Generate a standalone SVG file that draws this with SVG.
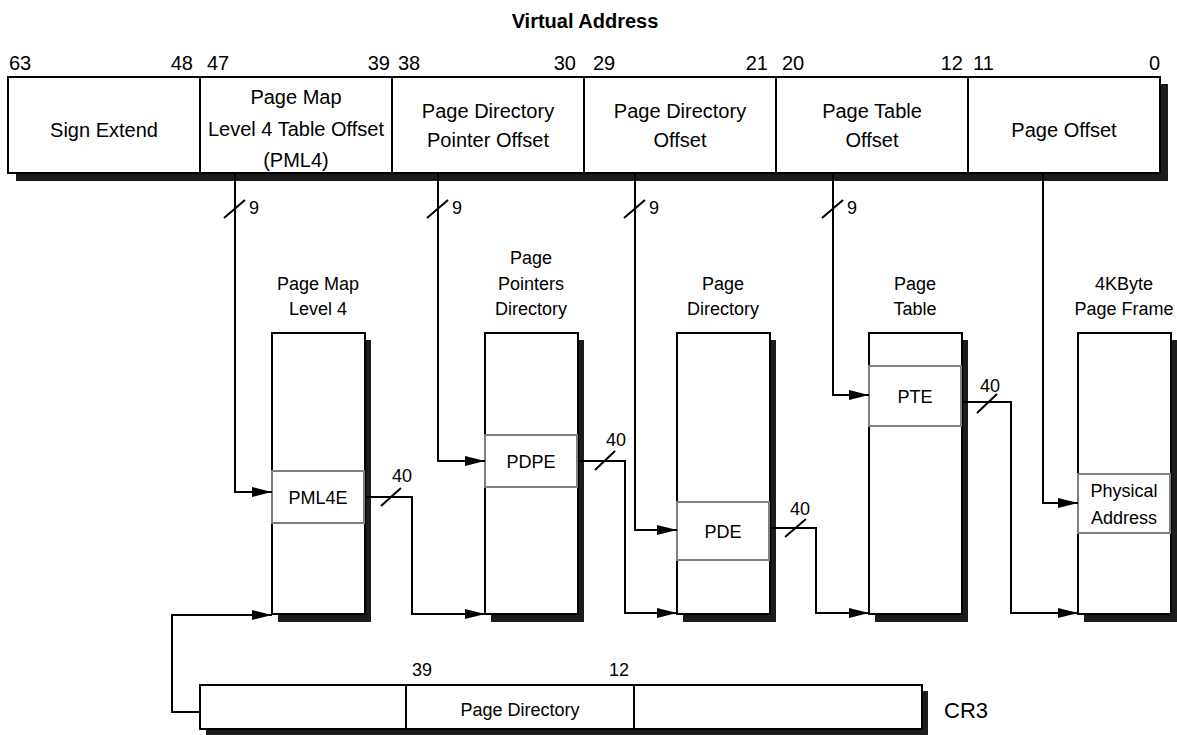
<svg xmlns="http://www.w3.org/2000/svg" width="1177" height="735" viewBox="0 0 1177 735">
<defs>
<marker id="arr" markerUnits="userSpaceOnUse" markerWidth="20" markerHeight="10" refX="20" refY="5" orient="auto"><path d="M0,0 L20,5 L0,10 Z" fill="#000"/></marker>
<style>
text{font-family:"Liberation Sans",Arial,sans-serif;fill:#000}
.t{font-size:20px;text-anchor:middle}
.n{font-size:20px}
.e{font-size:18px;text-anchor:end}
.l{font-size:18px;text-anchor:middle}
.s{font-size:18px}
.box{fill:#fff;stroke:#000;stroke-width:2}
.sh{fill:#1c1c1c}
.ent{fill:#fff;stroke:#808080;stroke-width:2}
.div{stroke:#000;stroke-width:2}
.c{fill:none;stroke:#000;stroke-width:2}
.ca{fill:none;stroke:#000;stroke-width:2;marker-end:url(#arr)}
</style>
</defs>
<text x="585" y="28" style="font-size:20px;font-weight:bold;text-anchor:middle">Virtual Address</text>

<g id="virtual-address">
<rect class="sh" x="16" y="84" width="1152" height="97"/>
<rect class="box" x="8" y="77" width="1152" height="96"/>
<line class="div" x1="200" y1="77" x2="200" y2="173"/>
<line class="div" x1="392" y1="77" x2="392" y2="173"/>
<line class="div" x1="584" y1="77" x2="584" y2="173"/>
<line class="div" x1="776" y1="77" x2="776" y2="173"/>
<line class="div" x1="968" y1="77" x2="968" y2="173"/>
<text class="n" x="9" y="70">63</text>
<text class="n" x="193" y="70" text-anchor="end">48</text>
<text class="n" x="207" y="70">47</text>
<text class="n" x="390" y="70" text-anchor="end">39</text>
<text class="n" x="398" y="70">38</text>
<text class="n" x="576" y="70" text-anchor="end">30</text>
<text class="n" x="593" y="70">29</text>
<text class="n" x="768" y="70" text-anchor="end">21</text>
<text class="n" x="782" y="70">20</text>
<text class="n" x="963" y="70" text-anchor="end">12</text>
<text class="n" x="973" y="70">11</text>
<text class="n" x="1160" y="70" text-anchor="end">0</text>
<text class="t" x="104" y="137">Sign Extend</text>
<text class="t" x="296" y="104">Page Map</text>
<text class="t" x="296" y="136">Level 4 Table Offset</text>
<text class="t" x="296" y="167">(PML4)</text>
<text class="t" x="488" y="118">Page Directory</text>
<text class="t" x="488" y="147">Pointer Offset</text>
<text class="t" x="680" y="118">Page Directory</text>
<text class="t" x="680" y="147">Offset</text>
<text class="t" x="872" y="118">Page Table</text>
<text class="t" x="872" y="147">Offset</text>
<text class="t" x="1064" y="137">Page Offset</text>
</g>

<g id="pml4-table">
<rect class="sh" x="278" y="340" width="93" height="282"/>
<rect class="box" x="272" y="333" width="93" height="281"/>
<rect class="ent" x="272" y="471" width="92" height="52"/>
<text class="l" x="318" y="504">PML4E</text>
<text class="l" x="318" y="290">Page Map</text>
<text class="l" x="318" y="315">Level 4</text>
</g>

<g id="pdp-table">
<rect class="sh" x="491" y="340" width="93" height="282"/>
<rect class="box" x="485" y="333" width="93" height="281"/>
<rect class="ent" x="485" y="435" width="92" height="52"/>
<text class="l" x="531" y="468">PDPE</text>
<text class="l" x="531" y="264">Page</text>
<text class="l" x="531" y="290">Pointers</text>
<text class="l" x="531" y="315">Directory</text>
</g>

<g id="pd-table">
<rect class="sh" x="683" y="340" width="93" height="282"/>
<rect class="box" x="677" y="333" width="93" height="281"/>
<rect class="ent" x="677" y="502" width="92" height="58"/>
<text class="l" x="723" y="538">PDE</text>
<text class="l" x="723" y="290">Page</text>
<text class="l" x="723" y="315">Directory</text>
</g>

<g id="page-table">
<rect class="sh" x="875" y="340" width="93" height="282"/>
<rect class="box" x="869" y="333" width="93" height="281"/>
<rect class="ent" x="869" y="366" width="92" height="60"/>
<text class="l" x="915" y="403">PTE</text>
<text class="l" x="915" y="290">Page</text>
<text class="l" x="915" y="315">Table</text>
</g>

<g id="page-frame">
<rect class="sh" x="1084" y="340" width="93" height="282"/>
<rect class="box" x="1078" y="333" width="93" height="281"/>
<rect class="ent" x="1078" y="474" width="92" height="59"/>
<text class="l" x="1124" y="497">Physical</text>
<text class="l" x="1124" y="524">Address</text>
<text class="l" x="1124" y="290">4KByte</text>
<text class="l" x="1124" y="315">Page Frame</text>
</g>

<g id="cr3">
<rect class="sh" x="206" y="691" width="722" height="44"/>
<rect class="box" x="200" y="685" width="722" height="44"/>
<line class="div" x1="406" y1="685" x2="406" y2="729"/>
<line class="div" x1="634" y1="685" x2="634" y2="729"/>
<text class="s" x="412" y="676">39</text>
<text class="e" x="629" y="676">12</text>
<text class="l" x="520" y="716">Page Directory</text>
<text x="944" y="718" style="font-size:22px">CR3</text>
</g>

<g id="connectors">
<path class="ca" d="M235 173 V492 H272"/>
<path class="ca" d="M438 173 V461 H485"/>
<path class="ca" d="M635 173 V530 H677"/>
<path class="ca" d="M833 173 V395 H869"/>
<path class="ca" d="M1043 173 V503 H1078"/>
<path class="ca" d="M366 497 H412 V614 H485"/>
<path class="ca" d="M578 461 H625 V613 H677"/>
<path class="ca" d="M770 528 H816 V613 H869"/>
<path class="ca" d="M962 402 H1011 V613 H1078"/>
<path class="ca" d="M200 712 H172 V615 H272"/>
<g class="c">
<line x1="224" y1="218" x2="245" y2="200"/>
<line x1="427" y1="218" x2="448" y2="200"/>
<line x1="624" y1="218" x2="645" y2="200"/>
<line x1="822" y1="218" x2="843" y2="200"/>
<line x1="381" y1="506" x2="401" y2="488"/>
<line x1="595" y1="470" x2="615" y2="451"/>
<line x1="785" y1="537" x2="806" y2="519"/>
<line x1="977" y1="413" x2="997" y2="394"/>
</g>
<text class="s" x="249" y="214">9</text>
<text class="s" x="452" y="214">9</text>
<text class="s" x="649" y="214">9</text>
<text class="s" x="847" y="214">9</text>
<text class="s" x="392" y="482">40</text>
<text class="s" x="606" y="446">40</text>
<text class="s" x="790" y="515">40</text>
<text class="s" x="980" y="392">40</text>
</g>
</svg>
